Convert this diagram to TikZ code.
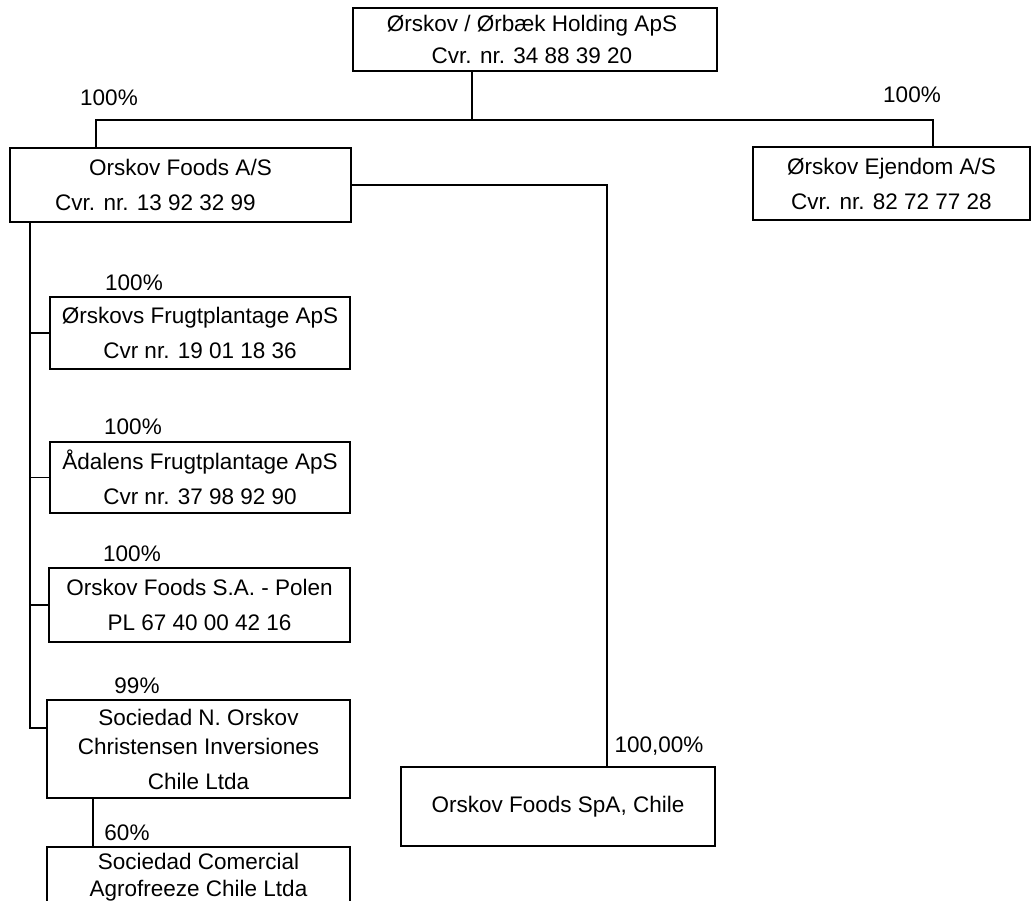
\documentclass[tikz,border=0pt]{standalone}
\usepackage{fontspec}
\setmainfont{Liberation Sans}

\begin{document}
\begin{tikzpicture}[x=1pt, y=-1pt, line width=1.1pt]
	\tikzstyle{every node}=[align=center, inner sep=0pt, font=\fontsize{22.5}{35}\selectfont]
	\tikzstyle{box}=[draw, rectangle]
	\useasboundingbox (0,0) rectangle (1033,901);

	% companies
	\node[box, minimum width=364, minimum height=63] (H) at (535,39.5) {Ørskov / Ørbæk Holding ApS\hspace*{6pt}\\[-3pt]Cvr. nr. 34 88 39 20\hspace*{6pt}};
	\node[box, minimum width=341, minimum height=74] (F) at (180.5,185) {Orskov Foods A/S\\Cvr. nr. 13 92 32 99\hspace*{50pt}};
	\node[box, minimum width=277, minimum height=73] (E) at (891.5,183.5) {Ørskov Ejendom A/S\\Cvr. nr. 82 72 77 28};
	\node[box, minimum width=300, minimum height=72] (F1) at (200,333) {Ørskovs Frugtplantage ApS\\Cvr nr. 19 01 18 36};
	\node[box, minimum width=300, minimum height=71] (F2) at (200,477.5) {Ådalens Frugtplantage ApS\\Cvr nr. 37 98 92 90};
	\node[box, minimum width=301, minimum height=74] (F3) at (199.5,605) {Orskov Foods S.A. - Polen\\PL 67 40 00 42 16};
	\node[box, minimum width=303, minimum height=98] (C1) at (198.5,749) {Sociedad N. Orskov\\[-6pt]Christensen Inversiones\\Chile Ltda};
	\node[box, minimum width=303, minimum height=60] (C2) at (198.5,877) {Sociedad Comercial\\[-8pt]Agrofreeze Chile Ltda};
	\node[box, minimum width=314, minimum height=79] (S) at (558,806.5) {Orskov Foods SpA, Chile};

	% shares
	\node (pF) at (109,98) {100\%};
	\node (pE) at (912,95) {100\%};
	\node (pF1) at (134,283) {100\%};
	\node (pF2) at (133,427) {100\%};
	\node (pF3) at (132,554) {100\%};
	\node (pC1) at (137,686) {99\%};
	\node (pC2) at (127,833) {60\%};
	\node (pS) at (659,746) {100,00\%};

	\coordinate (hub) at (472,120);
	\coordinate (trunk) at (30,222);

	\draw ([xshift=-63pt]H.south) -- (hub);
	\draw ([xshift=-84.5pt]F.north) |- (hub) -| ([xshift=41.5pt]E.north);
	\draw (F.east) -| ([xshift=49pt]S.north);
	\draw (trunk) |- ([yshift=21pt]C1.west);
	\draw (trunk) |- (F1.west);
	\draw (trunk) |- (F2.west);
	\draw (trunk) |- (F3.west);
	\draw ([xshift=-105.5pt]C1.south) -- ([xshift=-105.5pt]C2.north);

\end{tikzpicture}
\end{document}
